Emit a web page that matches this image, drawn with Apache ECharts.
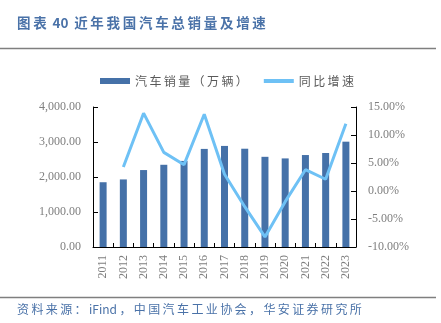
<!DOCTYPE html>
<html><head><meta charset="utf-8">
<script src="https://cdn.jsdelivr.net/npm/echarts@6/dist/echarts.min.js"></script>
<style>html,body{margin:0;padding:0;background:#fff}#c{width:441px;height:323px}</style>
</head><body><div id="c"></div>
<script>
var years = ['2011','2012','2013','2014','2015','2016','2017','2018','2019','2020','2021','2022','2023'];
var sales = [1850.5,1930.6,2198.4,2349.2,2459.8,2802.8,2887.9,2808.1,2576.9,2531.1,2627.5,2686.4,3009.4];
var growth = [null,4.3,13.9,6.9,4.7,13.7,3.0,-2.8,-8.2,-1.9,3.8,2.1,12.0];
var leftTicks = {min:0,max:4000,interval:1000};
var rightTicks = {min:-10,max:15,interval:5};

var serif = '"Liberation Serif","DejaVu Serif",serif';
var cjk = '"Noto Sans CJK SC","Liberation Serif",serif';
// insert thin spaces between wide (CJK) characters to mimic the source's letter spacing
function sp(s){
  var out='';
  for(var i=0;i<s.length;i++){
    out+=s[i];
    if(i<s.length-1){
      var a=s.charCodeAt(i)>255, b=s.charCodeAt(i+1)>255;
      if(a||b) out+='\u2009';
    }
  }
  return out;
}
var chart = echarts.init(document.getElementById('c'));
function fmt(v){return v.toLocaleString('en-US',{minimumFractionDigits:2,maximumFractionDigits:2});}
chart.setOption({
  animation:false,
  graphic:[
    {type:'text',left:17,top:16,style:{text:sp('图表 40 近年我国汽车总销量及增速'),fill:'#4a72a8',font:'bold 13.5px '+cjk}},
    {type:'line',shape:{x1:0,y1:48.5,x2:436,y2:48.5},style:{stroke:'#7f7f7f',lineWidth:1.5}},
    {type:'line',shape:{x1:0,y1:297.5,x2:436,y2:297.5},style:{stroke:'#7f7f7f',lineWidth:1.5}},
    {type:'text',left:17,top:303,style:{text:sp('资料来源：iFind，中国汽车工业协会，华安证券研究所'),fill:'#4a72a8',font:'12px '+cjk}}
  ],
  legend:{top:70,left:95,itemGap:16,itemWidth:30,itemHeight:6,
    formatter:function(n){return sp(n);},
    textStyle:{fontFamily:cjk,fontSize:12,color:'#595959'},
    data:[{name:'汽车销量（万辆）',icon:'rect'},{name:'同比增速',icon:'path://M0,0L30,0L30,4L0,4Z'}]},
  grid:{left:93,right:85,top:107,bottom:76},
  xAxis:{type:'category',data:years,
    axisLine:{lineStyle:{color:'#000',width:1}},
    axisTick:{show:true,inside:true,length:4,lineStyle:{color:'#000'}},
    axisLabel:{rotate:90,color:'#7f7f7f',fontFamily:serif,fontSize:12,margin:8}},
  yAxis:[
    {type:'value',min:leftTicks.min,max:leftTicks.max,interval:leftTicks.interval,
     splitLine:{show:false},
     axisLine:{show:true,lineStyle:{color:'#000'}},
     axisTick:{show:true,inside:true,length:5,lineStyle:{color:'#000'}},
     axisLabel:{color:'#7f7f7f',fontFamily:serif,fontSize:12,margin:12,formatter:fmt}},
    {type:'value',min:rightTicks.min,max:rightTicks.max,interval:rightTicks.interval,
     splitLine:{show:false},
     axisLine:{show:true,lineStyle:{color:'#000'}},
     axisTick:{show:true,inside:true,length:5,lineStyle:{color:'#000'}},
     axisLabel:{color:'#7f7f7f',fontFamily:serif,fontSize:12,margin:12,formatter:function(v){return v.toFixed(2)+'%';}}}
  ],
  series:[
    {name:'汽车销量（万辆）',type:'bar',data:sales,barWidth:7,itemStyle:{color:'#4571a8'}},
    {name:'同比增速',type:'line',yAxisIndex:1,data:growth,symbol:'none',
     lineStyle:{color:'#6ec1f5',width:3},itemStyle:{color:'#6ec1f5'}}
  ]
});
</script></body></html>
